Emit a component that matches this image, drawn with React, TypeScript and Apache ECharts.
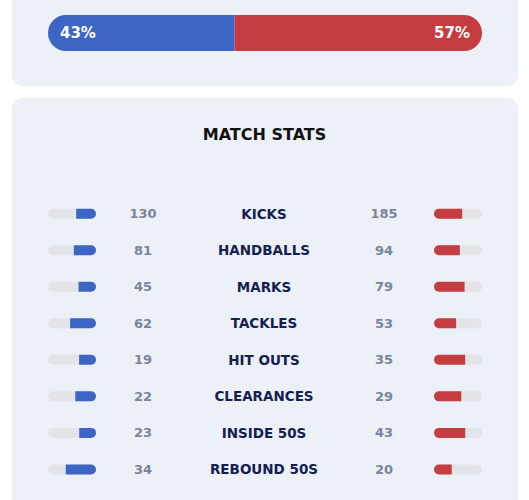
import React, { useEffect, useRef } from "react";
import * as echarts from "echarts";

const categories = ["KICKS", "HANDBALLS", "MARKS", "TACKLES", "HIT OUTS", "CLEARANCES", "INSIDE 50S", "REBOUND 50S"];
const homeValues = [130, 81, 45, 62, 19, 22, 23, 34];
const awayValues = [185, 94, 79, 53, 35, 29, 43, 20];
const possession = [43, 57];

const BLUE = "#3d65c4";
const RED = "#c53d41";
const TRACK = "#e3e4e8";
const CARD = "#ecf0f7";
const FONT = "DejaVu Sans";

export default function App() {
  const ref = useRef<HTMLDivElement>(null);
  useEffect(() => {
    if (!ref.current) return;
    const chart = echarts.init(ref.current, undefined, { renderer: "svg" });
    const homeShare = homeValues.map((v, i) => v / (v + awayValues[i]));
    const awayShare = awayValues.map((v, i) => v / (v + homeValues[i]));
    const rowsTop = 195.4;
    const rowsHeight = 292.3;
    const hiddenX = { show: false };
    chart.setOption({
      animation: false,
      graphic: [
        { type: "rect", z: -10, shape: { x: 12, y: -20, width: 506, height: 106, r: 10 }, style: { fill: CARD } },
        { type: "rect", z: -10, shape: { x: 12, y: 98, width: 506, height: 420, r: 10 }, style: { fill: CARD } },
      ],
      title: {
        text: "MATCH STATS",
        left: "center",
        top: 121,
        textStyle: { fontFamily: FONT, fontSize: 16, fontWeight: "bold", color: "#111" },
      },
      grid: [
        { left: 48, width: 434, top: 15, height: 36 },
        { left: 48, width: 48, top: rowsTop, height: rowsHeight },
        { left: 434, width: 48, top: rowsTop, height: rowsHeight },
        { left: 263, width: 2, top: rowsTop, height: rowsHeight },
      ],
      xAxis: [
        { gridIndex: 0, type: "value", min: 0, max: 100, ...hiddenX },
        { gridIndex: 1, type: "value", min: 0, max: 1, inverse: true, ...hiddenX },
        { gridIndex: 2, type: "value", min: 0, max: 1, ...hiddenX },
        { gridIndex: 3, type: "value", min: 0, max: 1, ...hiddenX },
      ],
      yAxis: [
        { gridIndex: 0, type: "category", data: ["possession"], show: false },
        {
          gridIndex: 1, type: "category", data: categories, inverse: true, position: "right",
          axisLine: { show: false }, axisTick: { show: false },
          axisLabel: {
            formatter: (_v: string, i: number) => String(homeValues[i]),
            margin: 47, align: "center", fontFamily: FONT, fontSize: 13, fontWeight: "bold", color: "#7b849a",
          },
        },
        {
          gridIndex: 2, type: "category", data: categories, inverse: true, position: "left",
          axisLine: { show: false }, axisTick: { show: false },
          axisLabel: {
            formatter: (_v: string, i: number) => String(awayValues[i]),
            margin: 50, align: "center", fontFamily: FONT, fontSize: 13, fontWeight: "bold", color: "#7b849a",
          },
        },
        {
          gridIndex: 3, type: "category", data: categories, inverse: true, position: "left",
          axisLine: { show: false }, axisTick: { show: false },
          axisLabel: {
            margin: -1, align: "center", fontFamily: FONT, fontSize: 13.5, fontWeight: "bold", color: "#152052",
          },
        },
      ],
      series: [
        {
          type: "bar", xAxisIndex: 0, yAxisIndex: 0, stack: "p", barWidth: 36,
          data: [possession[0]],
          itemStyle: { color: BLUE, borderRadius: [18, 0, 0, 18] },
          label: { show: true, position: "insideLeft", distance: 12, formatter: "{c}%", color: "#fff", fontFamily: FONT, fontSize: 15, fontWeight: "bold" },
        },
        {
          type: "bar", xAxisIndex: 0, yAxisIndex: 0, stack: "p", barWidth: 36,
          data: [possession[1]],
          itemStyle: { color: RED, borderRadius: [0, 18, 18, 0] },
          label: { show: true, position: "insideRight", distance: 12, formatter: "{c}%", color: "#fff", fontFamily: FONT, fontSize: 15, fontWeight: "bold" },
        },
        {
          type: "bar", xAxisIndex: 1, yAxisIndex: 1, barWidth: 10,
          data: homeShare,
          showBackground: true,
          backgroundStyle: { color: TRACK, borderRadius: 5 },
          itemStyle: { color: BLUE, borderRadius: [0, 5, 5, 0] },
        },
        {
          type: "bar", xAxisIndex: 2, yAxisIndex: 2, barWidth: 10,
          data: awayShare,
          showBackground: true,
          backgroundStyle: { color: TRACK, borderRadius: 5 },
          itemStyle: { color: RED, borderRadius: [5, 0, 0, 5] },
        },
        {
          type: "bar", xAxisIndex: 3, yAxisIndex: 3, data: categories.map(() => 0), silent: true,
        },
      ],
    });
    return () => chart.dispose();
  }, []);
  return <div ref={ref} style={{ position: "fixed", left: 0, top: 0, width: 529, height: 500, background: "#fff" }} />;
}
